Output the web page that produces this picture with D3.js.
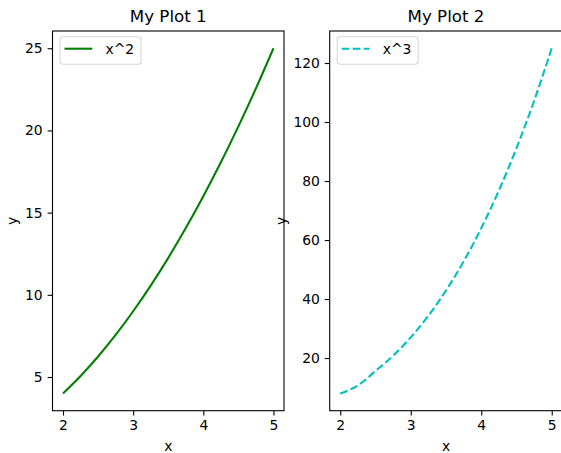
<!DOCTYPE html>
<html>
<head>
<meta charset="utf-8">
<script src="https://cdn.jsdelivr.net/npm/d3@7"></script>
<style>
  body { margin: 0; background: #fff; }
  svg { font-family: "DejaVu Sans", sans-serif; }
</style>
</head>
<body>
<div id="chart"></div>
<script>
// values
const xs = [2, 2.25, 2.5, 2.75, 3, 3.25, 3.5, 3.75, 4, 4.25, 4.5, 4.75, 5];
const squares = [4, 5.06, 6.25, 7.56, 9, 10.56, 12.25, 14.06, 16, 18.06, 20.25, 22.56, 25];
const cubes = [8, 10.72, 15.63, 20.8, 27, 34.33, 42.88, 52.73, 64, 76.77, 91.13, 107.17, 125];
const xTicks = [2, 3, 4, 5];
const yTicks1 = [5, 10, 15, 20, 25];
const yTicks2 = [20, 40, 60, 80, 100, 120];

var width = 561;
var height = 453;

const svg = d3.select("#chart").append("svg")
    .attr("width", width)
    .attr("height", height);

function draw_panel(opt) {
    const x = d3.scaleLinear().domain([1.85, 5.15]).range([opt.left, opt.right]);
    const y = d3.scaleLinear().domain(opt.ydomain).range([410.7, 31]);
    const g = svg.append("g");

    const line = d3.line()
        .x((d, i) => x(xs[i]))
        .y(d => y(d))
        .curve(d3.curveMonotoneX);

    g.append("path")
        .datum(opt.values)
        .attr("fill", "none")
        .attr("stroke", opt.color)
        .attr("stroke-width", 2.08)
        .attr("stroke-dasharray", opt.dash)
        .attr("d", line);

    // x axis
    const xa = g.append("g")
        .attr("transform", "translate(0,410.7)")
        .call(d3.axisBottom(x).tickValues(xTicks).tickFormat(d3.format("d")).tickSize(4.9).tickPadding(4.9));
    xa.select(".domain").remove();
    xa.selectAll("line").attr("stroke", "#000").attr("stroke-width", 1.1);
    xa.selectAll("text").attr("font-size", "13.9px").attr("fill", "#000").attr("font-family", "DejaVu Sans");

    const ya = g.append("g")
        .attr("transform", "translate(" + opt.left + ",0)")
        .call(d3.axisLeft(y).tickValues(opt.yticks).tickFormat(d3.format("d")).tickSize(4.9).tickPadding(4.9));
    ya.select(".domain").remove();
    ya.selectAll("line").attr("stroke", "#000").attr("stroke-width", 1.1);
    ya.selectAll("text").attr("font-size", "13.9px").attr("fill", "#000").attr("font-family", "DejaVu Sans");

    // frame
    g.append("rect")
        .attr("x", opt.left)
        .attr("y", 31)
        .attr("width", opt.right - opt.left)
        .attr("height", 410.7 - 31)
        .attr("fill", "none")
        .attr("stroke", "#000")
        .attr("stroke-width", 1.1);

    g.append("text")
        .attr("x", (opt.left + opt.right) / 2)
        .attr("y", 21.5)
        .attr("text-anchor", "middle")
        .attr("font-size", "16.7px")
        .text(opt.title);

    g.append("text")
        .attr("x", (opt.left + opt.right) / 2)
        .attr("y", 451)
        .attr("text-anchor", "middle")
        .attr("font-size", "13.9px")
        .text("x");

    g.append("text")
        .attr("transform", "translate(" + opt.ylabelX + ",221) rotate(-90)")
        .attr("text-anchor", "middle")
        .attr("font-size", "13.9px")
        .text("y");

    // legend
    const lg = g.append("g").attr("transform", "translate(" + (opt.left + 7.5) + ",36.7)");
    lg.append("rect")
        .attr("width", opt.legendW)
        .attr("height", 27.6)
        .attr("rx", 3)
        .attr("fill", "#fff")
        .attr("fill-opacity", 0.8)
        .attr("stroke", "#d6d6d6")
        .attr("stroke-width", 1.1);
    lg.append("line")
        .attr("x1", 4.5).attr("x2", 32.3)
        .attr("y1", 12).attr("y2", 12)
        .attr("stroke", opt.color)
        .attr("stroke-width", 2.08)
        .attr("stroke-dasharray", opt.dash);
    lg.append("text")
        .attr("x", 45.5)
        .attr("y", 17)
        .attr("font-size", "13.9px")
        .text(opt.label);
}

draw_panel({
    left: 52.5, right: 284, ydomain: [2.95, 26.05], yticks: yTicks1,
    values: squares, color: "#008000", dash: null,
    title: "My Plot 1", label: "x^2", ylabelX: 16.5, legendW: 81
});

draw_panel({
    left: 329.7, right: 562.3, ydomain: [2.15, 130.85], yticks: yTicks2,
    values: cubes, color: "#00bfbf", dash: "7.7,3.3",
    title: "My Plot 2", label: "x^3", ylabelX: 285.5, legendW: 81
});
</script>
</body>
</html>
